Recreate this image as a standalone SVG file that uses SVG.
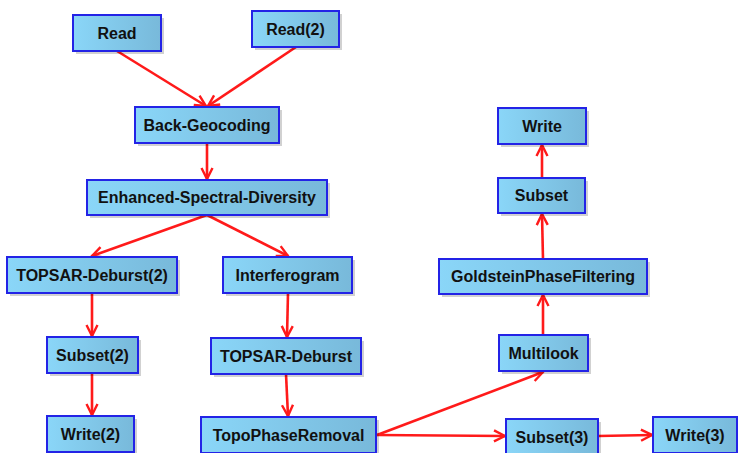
<svg xmlns="http://www.w3.org/2000/svg" width="738" height="453" viewBox="0 0 738 453">
  <defs>
    <linearGradient id="boxFill" x1="0" y1="0" x2="1" y2="0">
      <stop offset="0" stop-color="#8ad6f8"/>
      <stop offset="1" stop-color="#78b9da"/>
    </linearGradient>
    <marker id="arrow" viewBox="0 0 14 14" refX="12.5" refY="7" markerWidth="14" markerHeight="14" markerUnits="userSpaceOnUse" orient="auto">
      <path d="M1.5,1.5 L12.5,7 L1.5,12.5" fill="none" stroke="#ff1a1a" stroke-width="2.4"/>
    </marker>
  </defs>
  <style>
    .shadow { fill: #000; opacity: 0.18; }
    .box { fill: url(#boxFill); stroke: #2323e6; stroke-width: 2; }
    .label { font-family: "Liberation Sans", Arial, sans-serif; font-weight: bold; font-size: 16px; fill: #111; text-anchor: middle; dominant-baseline: central; }
    .edge { fill: none; stroke: #ff1a1a; stroke-width: 2.6; marker-end: url(#arrow); }
  </style>
  <rect width="738" height="453" fill="#ffffff"/>

  <g id="connectors">
    <line class="edge" x1="117" y1="51" x2="206" y2="106"/>
    <line class="edge" x1="296" y1="47" x2="208" y2="106"/>
    <line class="edge" x1="207" y1="143" x2="207" y2="179"/>
    <line class="edge" x1="207" y1="215" x2="92" y2="256"/>
    <line class="edge" x1="207" y1="215" x2="288" y2="256"/>
    <line class="edge" x1="92" y1="293" x2="92" y2="336"/>
    <line class="edge" x1="92" y1="373" x2="92" y2="415"/>
    <line class="edge" x1="288" y1="293" x2="287" y2="337"/>
    <line class="edge" x1="286" y1="374" x2="288" y2="416"/>
    <line class="edge" x1="377" y1="435" x2="543" y2="372"/>
    <line class="edge" x1="377" y1="435" x2="505" y2="436"/>
    <line class="edge" x1="598" y1="436" x2="652" y2="435"/>
    <line class="edge" x1="543" y1="335" x2="543" y2="295"/>
    <line class="edge" x1="543" y1="259" x2="542" y2="214"/>
    <line class="edge" x1="542" y1="178" x2="542" y2="145"/>
  </g>

  <g id="read">
    <rect class="shadow" x="76" y="18" width="88" height="36"/>
    <rect class="box" x="73" y="15" width="88" height="36"/>
    <text class="label" x="117" y="33">Read</text>
  </g>
  <g id="read2">
    <rect class="shadow" x="255" y="14" width="87" height="36"/>
    <rect class="box" x="252" y="11" width="87" height="36"/>
    <text class="label" x="295.5" y="29">Read(2)</text>
  </g>
  <g id="back-geocoding">
    <rect class="shadow" x="138" y="110" width="144" height="36"/>
    <rect class="box" x="135" y="107" width="144" height="36"/>
    <text class="label" x="207" y="125">Back-Geocoding</text>
  </g>
  <g id="esd">
    <rect class="shadow" x="90" y="183" width="240" height="35"/>
    <rect class="box" x="87" y="180" width="240" height="35"/>
    <text class="label" x="207" y="197.5">Enhanced-Spectral-Diversity</text>
  </g>
  <g id="topsar-deburst2">
    <rect class="shadow" x="10" y="260" width="170" height="36"/>
    <rect class="box" x="7" y="257" width="170" height="36"/>
    <text class="label" x="92" y="275">TOPSAR-Deburst(2)</text>
  </g>
  <g id="interferogram">
    <rect class="shadow" x="226" y="260" width="129" height="36"/>
    <rect class="box" x="223" y="257" width="129" height="36"/>
    <text class="label" x="287.5" y="275">Interferogram</text>
  </g>
  <g id="subset2">
    <rect class="shadow" x="50" y="340" width="91" height="36"/>
    <rect class="box" x="47" y="337" width="91" height="36"/>
    <text class="label" x="92.5" y="355">Subset(2)</text>
  </g>
  <g id="topsar-deburst">
    <rect class="shadow" x="214" y="341" width="150" height="36"/>
    <rect class="box" x="211" y="338" width="150" height="36"/>
    <text class="label" x="286" y="356">TOPSAR-Deburst</text>
  </g>
  <g id="write2">
    <rect class="shadow" x="50" y="419" width="87" height="36"/>
    <rect class="box" x="47" y="416" width="87" height="36"/>
    <text class="label" x="90.5" y="434">Write(2)</text>
  </g>
  <g id="topophaseremoval">
    <rect class="shadow" x="204" y="420" width="175" height="36"/>
    <rect class="box" x="201" y="417" width="175" height="36"/>
    <text class="label" x="288.5" y="435">TopoPhaseRemoval</text>
  </g>
  <g id="write">
    <rect class="shadow" x="501" y="111" width="88" height="36"/>
    <rect class="box" x="498" y="108" width="88" height="36"/>
    <text class="label" x="542" y="126">Write</text>
  </g>
  <g id="subset">
    <rect class="shadow" x="501" y="181" width="87" height="35"/>
    <rect class="box" x="498" y="178" width="87" height="35"/>
    <text class="label" x="541.5" y="195.5">Subset</text>
  </g>
  <g id="goldstein">
    <rect class="shadow" x="442" y="262" width="208" height="35"/>
    <rect class="box" x="439" y="259" width="208" height="35"/>
    <text class="label" x="543" y="276.5">GoldsteinPhaseFiltering</text>
  </g>
  <g id="multilook">
    <rect class="shadow" x="502" y="338" width="89" height="36"/>
    <rect class="box" x="499" y="335" width="89" height="36"/>
    <text class="label" x="543.5" y="353">Multilook</text>
  </g>
  <g id="subset3">
    <rect class="shadow" x="509" y="422" width="92" height="36"/>
    <rect class="box" x="506" y="419" width="92" height="36"/>
    <text class="label" x="552" y="437">Subset(3)</text>
  </g>
  <g id="write3">
    <rect class="shadow" x="656" y="420" width="84" height="36"/>
    <rect class="box" x="653" y="417" width="84" height="36"/>
    <text class="label" x="695" y="435">Write(3)</text>
  </g>
</svg>
